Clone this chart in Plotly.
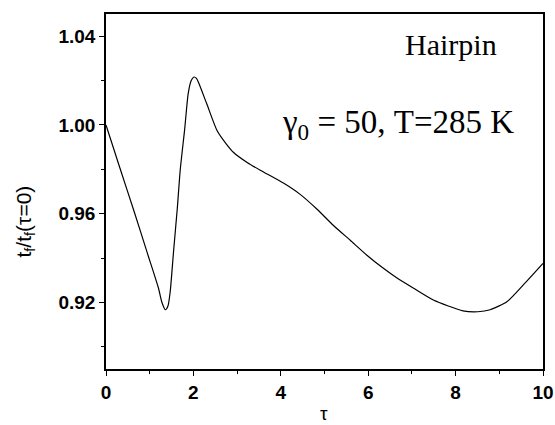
import plotly.graph_objects as go

# Normalised folding time vs. tau
tau = [0.0, 0.32, 0.64, 0.95, 1.2, 1.28, 1.36, 1.42, 1.47, 1.55, 1.63, 1.70, 1.80,
       1.88, 1.95, 2.01, 2.07, 2.12, 2.31, 2.54, 2.75, 2.92, 3.23, 3.53, 4.06,
       4.45, 4.83, 5.20, 5.59, 5.97, 6.34, 6.66, 7.03, 7.49, 8.17, 8.51, 8.79,
       9.18, 9.55, 10.0]
ratio = [1.0, 0.9805, 0.9612, 0.9420, 0.9265, 0.9200, 0.9167, 0.9185, 0.9250,
         0.9440, 0.9620, 0.9800, 0.9980, 1.0140, 1.0200, 1.0216, 1.0210, 1.0190,
         1.0093, 0.9975, 0.9915, 0.9876, 0.9831, 0.9796, 0.9738, 0.9686, 0.9620,
         0.9548, 0.9480, 0.9413, 0.9355, 0.9310, 0.9265, 0.9211, 0.9162, 0.9158,
         0.9167, 0.9204, 0.9279, 0.9376]

x_ticks = [0, 2, 4, 6, 8, 10]
y_ticks = [0.92, 0.96, 1.00, 1.04]
y_labels = ["0.92", "0.96", "1.00", "1.04"]

W, H = 555, 425
L, R, T, B = 105.5, 12, 14, 56
pw, ph = W - L - R, H - T - B


def px(x):
    return (x - L) / pw


def py(y):
    return 1 - (y - T) / ph


fig = go.Figure()
fig.add_trace(go.Scatter(
    x=tau, y=ratio, mode="lines",
    line=dict(color="black", width=1.2, shape="spline", smoothing=0.6),
    showlegend=False,
))

tick_font = dict(family="Liberation Sans", size=19, color="black", weight="bold")
axis_common = dict(
    showgrid=False, zeroline=False, showline=True, linecolor="black",
    linewidth=1.5, mirror=True, ticks="outside", ticklen=5, tickwidth=1.3,
    tickcolor="black", tickfont=tick_font, automargin=False,
)

fig.update_xaxes(
    range=[0, 10], tickvals=x_ticks, ticktext=[str(v) for v in x_ticks],
    minor=dict(ticks="outside", ticklen=3, tickwidth=1.2, tickcolor="black", dtick=1),
    **axis_common,
)
fig.update_yaxes(
    range=[0.89, 1.05], tickvals=y_ticks, ticktext=y_labels,
    minor=dict(ticks="outside", ticklen=3, tickwidth=1.2, tickcolor="black",
               tickvals=[0.90, 0.94, 0.98, 1.02]),
    **axis_common,
)

# axis titles
fig.add_annotation(
    x=px(324), y=py(413), xref="paper", yref="paper", text="τ", showarrow=False,
    xanchor="center", yanchor="middle",
    font=dict(family="Liberation Sans", size=19, color="black"),
)
fig.add_annotation(
    x=px(24), y=py(222), xref="paper", yref="paper",
    text="t<sub>f</sub>/t<sub>f</sub>(τ=0)", showarrow=False, textangle=-90,
    xanchor="center", yanchor="middle",
    font=dict(family="Liberation Sans", size=21, color="black"),
)

# labels inside the frame
fig.add_annotation(
    x=px(451), y=py(44), xref="paper", yref="paper", text="Hairpin", showarrow=False,
    xanchor="center", yanchor="middle",
    font=dict(family="Liberation Serif", size=30, color="black"),
)
fig.add_annotation(
    x=px(398), y=py(124), xref="paper", yref="paper",
    text="γ<sub>0</sub> = 50, T=285 K", showarrow=False,
    xanchor="center", yanchor="middle",
    font=dict(family="Liberation Serif", size=33, color="black"),
)

fig.update_layout(
    width=W, height=H,
    margin=dict(l=L, r=R, t=T, b=B),
    paper_bgcolor="white", plot_bgcolor="white",
)

fig.write_html("out.html")
